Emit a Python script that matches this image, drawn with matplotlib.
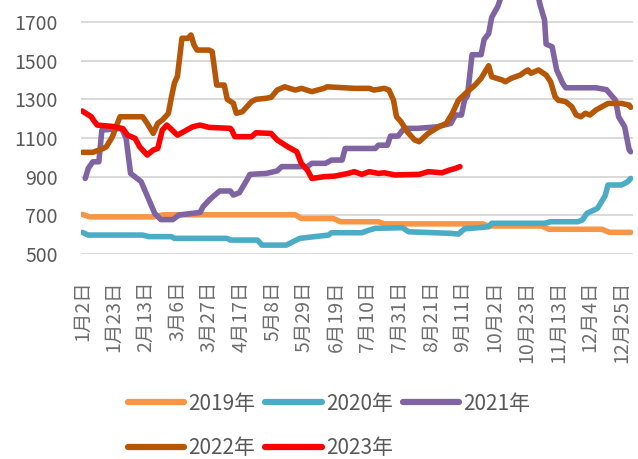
import matplotlib
matplotlib.use('Agg')
import matplotlib.pyplot as plt

plt.rcParams['font.family'] = ['Noto Sans CJK SC', 'DejaVu Sans']

# x = day of year (1月1日 = 0)
days_2019 = [1, 6, 48, 55, 142, 146, 167, 172, 197, 201, 266, 270, 305, 310, 345, 350, 364]
vals_2019 = [705, 692, 692, 703, 703, 684, 684, 667, 667, 656, 656, 645, 645, 628, 628, 612, 612]

days_2020 = [1, 5, 41, 45, 60, 62, 97, 99, 117, 120, 136, 145, 155, 164, 166, 186, 191, 195,
             213, 217, 245, 250, 254, 270, 272, 307, 311, 329, 332, 335, 342, 347, 349, 358, 362, 364]
vals_2020 = [612, 598, 598, 590, 590, 581, 581, 572, 572, 546, 546, 581, 590, 598, 610, 610, 624, 633,
             636, 615, 607, 603, 630, 641, 659, 659, 667, 667, 676, 710, 736, 800, 857, 857, 874, 891]

days_2021 = [3, 5, 8, 12, 14, 27, 30, 33, 36, 40, 49, 53, 61, 65, 79, 81, 85, 88, 92, 99, 101, 105,
             110, 112, 123, 130, 133, 150, 153, 162, 166, 173, 175, 195, 197, 203, 205, 210, 214, 223,
             236, 245, 248, 252, 254, 256, 259, 265, 267, 270, 272, 276, 280, 288, 295, 300, 304, 307,
             308, 312, 315, 319, 321, 341, 348, 352, 354, 356, 360, 363, 364]
vals_2021 = [891, 943, 977, 977, 1141, 1150, 1100, 917, 899, 874, 710, 678, 678, 702, 715, 745, 779, 800,
             826, 826, 805, 817, 883, 912, 917, 930, 952, 952, 969, 969, 986, 986, 1046, 1046, 1063, 1063,
             1110, 1110, 1150, 1150, 1158, 1176, 1219, 1219, 1296, 1320, 1531, 1531, 1610, 1640, 1724, 1780,
             1870, 1960, 2000, 1930, 1790, 1710, 1586, 1572, 1452, 1383, 1360, 1360, 1350, 1313, 1296,
             1210, 1158, 1038, 1029]

days_2022 = [1, 8, 15, 17, 21, 23, 26, 41, 44, 48, 51, 54, 58, 60, 62, 64, 67, 71, 73, 75, 77, 85, 87,
             90, 95, 97, 101, 103, 107, 113, 116, 122, 126, 130, 135, 142, 146, 153, 161, 163, 181, 191,
             194, 201, 204, 207, 209, 212, 216, 221, 224, 230, 237, 242, 246, 250, 256, 261, 265, 270,
             272, 279, 281, 285, 291, 294, 296, 298, 303, 308, 311, 314, 316, 321, 325, 328, 331, 334,
             337, 341, 345, 349, 358, 363, 364]
vals_2022 = [1026, 1026, 1046, 1055, 1107, 1150, 1210, 1210, 1176, 1124, 1176, 1193, 1227, 1310, 1384,
             1419, 1616, 1616, 1633, 1581, 1555, 1555, 1547, 1374, 1374, 1300, 1280, 1228, 1236, 1288,
             1300, 1305, 1310, 1348, 1365, 1348, 1357, 1340, 1357, 1365, 1357, 1357, 1348, 1357, 1348,
             1296, 1210, 1184, 1133, 1090, 1081, 1124, 1158, 1176, 1228, 1296, 1340, 1374, 1409, 1474,
             1417, 1400, 1391, 1409, 1426, 1443, 1452, 1435, 1452, 1426, 1391, 1313, 1296, 1288, 1262,
             1219, 1210, 1228, 1219, 1245, 1262, 1279, 1279, 1270, 1259]

days_2023 = [1, 7, 9, 11, 21, 28, 31, 36, 39, 44, 48, 51, 54, 57, 64, 68, 74, 79, 85, 99, 100, 102,
             113, 116, 126, 130, 137, 143, 146, 150, 153, 161, 168, 177, 181, 186, 191, 197, 201, 208,
             224, 230, 239, 244, 248, 251]
vals_2023 = [1240, 1210, 1186, 1167, 1160, 1148, 1115, 1098, 1055, 1012, 1038, 1046, 1141, 1167, 1115,
             1132, 1158, 1167, 1155, 1150, 1141, 1107, 1107, 1127, 1124, 1090, 1055, 1029, 969, 934, 891,
             900, 903, 917, 926, 912, 926, 917, 920, 909, 912, 926, 920, 934, 943, 952]

tick_days = [1, 22, 43, 64, 85, 106, 127, 148, 169, 190, 211, 232, 253, 274, 295, 316, 337, 358]
tick_labels = ['1月2日', '1月23日', '2月13日', '3月6日', '3月27日', '4月17日', '5月8日', '5月29日',
               '6月19日', '7月10日', '7月31日', '8月21日', '9月11日', '10月2日', '10月23日',
               '11月13日', '12月4日', '12月25日']

series = [
    ('2019年', days_2019, vals_2019, '#F79646'),
    ('2020年', days_2020, vals_2020, '#4BACC6'),
    ('2021年', days_2021, vals_2021, '#8064A2'),
    ('2022年', days_2022, vals_2022, '#B65708'),
    ('2023年', days_2023, vals_2023, '#FF0000'),
]

fig = plt.figure(figsize=(6.38, 4.59), dpi=100)
ax = fig.add_axes([0.1277, 0.4466, 0.8644, 0.5534])

lines = []
for name, d, v, c in series:
    ln, = ax.plot(d, v, color=c, lw=4, label=name,
                  solid_capstyle='round', solid_joinstyle='round')
    lines.append(ln)

ax.set_xlim(0.5, 365.5)
ax.set_ylim(500, 1814)
ax.set_yticks(range(500, 1701, 200))
ax.set_xticks(tick_days)
ax.set_xticklabels(tick_labels, rotation=90, va='top', ha='center')
ax.grid(axis='y', color='#D9D9D9', lw=1.4)
ax.set_axisbelow(True)
for s in ax.spines.values():
    s.set_visible(False)
ax.tick_params(axis='y', length=0, pad=17, labelsize=14, labelcolor='#595959')
ax.tick_params(axis='x', length=0, pad=19, labelsize=14, labelcolor='#6e6e6e')

# legend fills by column, so reorder to get rows 2019-2021 / 2022-2023
order = [0, 3, 1, 4, 2]
leg = fig.legend([lines[i] for i in order], [series[i][0] for i in order],
                 loc='center', bbox_to_anchor=(329 / 638, 1 - 426 / 459), ncol=3, frameon=False,
                 fontsize=15, handlelength=2.7, handletextpad=0.2, columnspacing=0.48,
                 labelspacing=1.1, borderpad=0)
for t in leg.get_texts():
    t.set_color('#595959')
for h in leg.get_lines():
    h.set_linewidth(4.5)
    h.set_solid_capstyle('round')

fig.savefig('out.png', dpi=100)
